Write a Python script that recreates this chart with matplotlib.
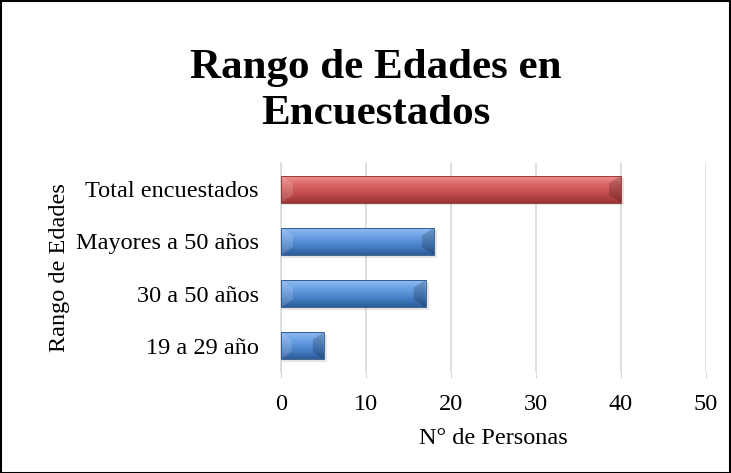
import numpy as np
import matplotlib
matplotlib.use("Agg")
import matplotlib.pyplot as plt
from matplotlib.colors import LinearSegmentedColormap

# data
categorias = ["19 a 29 año", "30 a 50 años", "Mayores a 50 años", "Total encuestados"]
personas = [5, 17, 18, 40]
tipo = ["blue", "blue", "blue", "red"]

plt.rcParams['font.family'] = ['Liberation Serif', 'DejaVu Serif']

azul = LinearSegmentedColormap.from_list("azul", ["#2c5c9a", "#4a82c9", "#6aa0e4", "#93c0f3"])
rojo = LinearSegmentedColormap.from_list("rojo", ["#9c3434", "#c04c4c", "#da6767", "#f29595"])

fig = plt.figure(figsize=(7.31, 4.73), dpi=100)
ax = fig.add_axes([281/731, 1 - 372/473, (706-281)/731, (372-163)/473])

y = np.arange(len(categorias))
alto = 0.52
bars = ax.barh(y, personas, height=alto, color="none", zorder=3)

# gradient fill, bevelled ends and a soft shadow for each bar
grad = np.linspace(0, 1, 100).reshape(-1, 1)
for b, t in zip(bars, tipo):
    x0, y0 = b.get_x(), b.get_y()
    w, h = b.get_width(), b.get_height()
    x1 = x0 + w
    ax.barh(y0 + h/2 - 0.05, w + 0.4, height=h, left=x0, color="#000000", alpha=0.10, zorder=2)
    cmap = azul if t == "blue" else rojo
    im = ax.imshow(grad, cmap=cmap, aspect="auto", origin="lower",
                   extent=[x0, x1, y0, y0 + h], zorder=4)
    im.set_clip_path(b)
    d = min(1.4, w * 0.25)
    e = h * 0.28
    ax.add_patch(plt.Polygon([(x1 - d, y0 + e), (x1, y0), (x1, y0 + h), (x1 - d, y0 + h - e)],
                             closed=True, color="#000000", alpha=0.18, lw=0, zorder=5))
    ax.add_patch(plt.Polygon([(x0 + d, y0 + e), (x0, y0), (x0, y0 + h), (x0 + d, y0 + h - e)],
                             closed=True, color="#ffffff", alpha=0.15, lw=0, zorder=5))
    ax.add_patch(plt.Rectangle((x0, y0), w, h, fill=False,
                               edgecolor="#2a4f80" if t == "blue" else "#8a2e2e",
                               linewidth=0.6, zorder=6))

ax.set_xlim(0, 50)
ax.set_ylim(-0.5, 3.5)
ax.set_xticks(range(0, 51, 10))
ax.set_yticks(y)
ax.set_yticklabels(categorias, fontsize=17.5)
ax.tick_params(axis="x", labelsize=17.5, length=4, color="#d9d9d9", pad=12)
ax.tick_params(axis="y", length=0, pad=16)
ax.grid(axis="x", color="#d9d9d9", linewidth=1.2, zorder=0)
for s in ["top", "right", "bottom"]:
    ax.spines[s].set_visible(False)
ax.spines["left"].set_color("#d9d9d9")
ax.spines["left"].set_linewidth(1.2)

ax.set_xlabel("N° de Personas", fontsize=17.5, labelpad=9)
fig.text(60/731, 1 - 268/473, "Rango de Edades", rotation=90, fontsize=17.5, ha="center", va="center")

fig.text(376/731, 1 - 91/473, "Rango de Edades en\nEncuestados", fontsize=31, fontweight="bold",
         ha="center", va="center", linespacing=1.25)

fig.add_artist(plt.Rectangle((0.001, 0.001), 0.997, 0.997, transform=fig.transFigure,
                             fill=False, edgecolor="black", linewidth=1.5))

fig.savefig("out.png", dpi=100)
